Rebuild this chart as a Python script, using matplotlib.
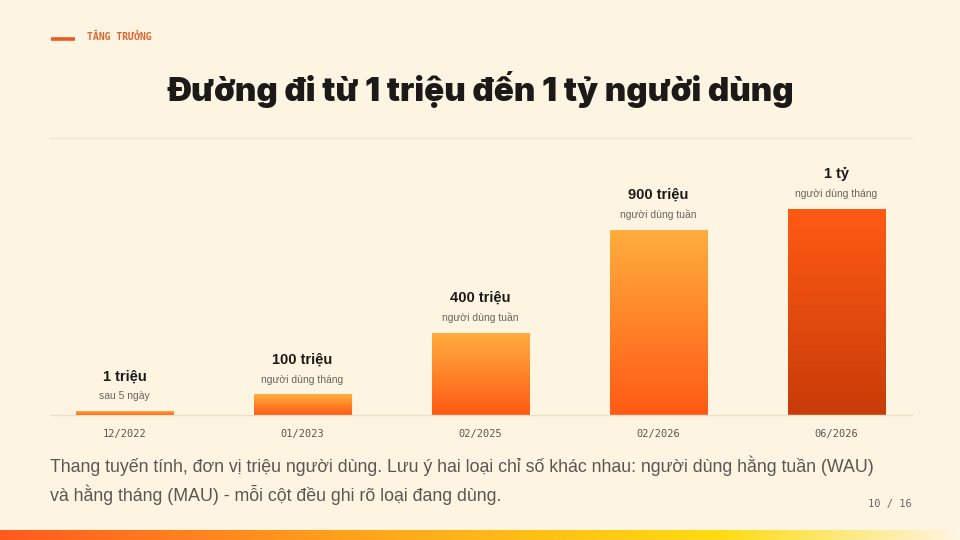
import numpy as np
import matplotlib
matplotlib.use('Agg')
import matplotlib.pyplot as plt
from matplotlib.colors import LinearSegmentedColormap

# data (million users)
periods = ['12/2022', '01/2023', '02/2025', '02/2026', '06/2026']
values = [1, 100, 400, 900, 1000]
value_labels = ['1 triệu', '100 triệu', '400 triệu', '900 triệu', '1 tỷ']
sub_labels = ['sau 5 ngày', 'người dùng tháng', 'người dùng tuần', 'người dùng tuần', 'người dùng tháng']
title = 'Đường đi từ 1 triệu đến 1 tỷ người dùng'
kicker = 'TĂNG TRƯỞNG'
caption = ('Thang tuyến tính, đơn vị triệu người dùng. Lưu ý hai loại chỉ số khác nhau: người dùng hằng tuần (WAU)\n'
           'và hằng tháng (MAU) - mỗi cột đều ghi rõ loại đang dùng.')
page = '10 / 16'

bg = '#fdf5e2'
W, H = 960, 540
mono = ['DejaVu Sans Mono', 'Liberation Mono']

fig = plt.figure(figsize=(9.6, 5.4), dpi=100, facecolor=bg)

# background / decoration layer in pixel coords
deco = fig.add_axes([0, 0, 1, 1])
deco.set_xlim(0, W)
deco.set_ylim(H, 0)
deco.axis('off')
deco.set_facecolor(bg)

deco.plot([51, 75], [39, 39], color='#ea5b22', lw=2.6, solid_capstyle='butt')
deco.text(87, 37, kicker, fontsize=7, fontweight='bold', family=mono,
          color='#e0642e', va='center', ha='left')
deco.text(481, 89, title, fontsize=23.9, fontweight='black', family=['Inter', 'DejaVu Sans'],
          color='#1c1a18', va='center', ha='center')
deco.plot([50, 912], [138, 138], color='#efe6d2', lw=1)
deco.text(50, 480.5, caption, fontsize=12.75, family='Liberation Sans', color='#5a5652',
          va='center', ha='left', linespacing=1.5)
deco.text(912, 504, page, fontsize=7.5, family=mono, color='#6a6560',
          va='center', ha='right')

# bottom strip gradient
strip = LinearSegmentedColormap.from_list('strip', [(0, '#ff5a1e'), (0.35, '#ffa01e'),
                                                    (0.75, '#ffdc10'), (1.0, bg)])
grad = np.linspace(0, 1, 512).reshape(1, -1)
deco.imshow(grad, cmap=strip, extent=[0, W, 540, 530], aspect='auto', zorder=1)
deco.set_xlim(0, W)
deco.set_ylim(H, 0)

# chart axes
ax = fig.add_axes([51 / W, (540 - 415) / H, (912 - 51) / W, 275 / H])
ax.patch.set_alpha(0)
x = np.arange(len(values))
shown = [max(v, 18) for v in values]
bars = ax.bar(x, shown, width=0.545, color='none', edgecolor='none')

warm = LinearSegmentedColormap.from_list('warm', ['#ff5a14', '#ffae3e'])
deep = LinearSegmentedColormap.from_list('deep', ['#c83c08', '#ff5a14'])
vgrad = np.linspace(0, 1, 256).reshape(-1, 1)
for i, b in enumerate(bars):
    cm_ = deep if i == len(bars) - 1 else warm
    x0, w, h = b.get_x(), b.get_width(), b.get_height()
    im = ax.imshow(vgrad, cmap=cm_, origin='lower', aspect='auto',
                   extent=[x0, x0 + w, 0, h], zorder=2)
    im.set_clip_path(b)
    ax.text(x[i], h + 170, value_labels[i], ha='center', va='center', fontsize=10.5,
            fontweight='bold', family='Liberation Sans', color='#1c1a18')
    ax.text(x[i], h + 72, sub_labels[i], ha='center', va='center', fontsize=7.5,
            family='Liberation Sans', color='#6a6560')
ax.set_xlim(-0.413, 4.424)
ax.set_ylim(0, 1335)

for s in ['top', 'right', 'left']:
    ax.spines[s].set_visible(False)
ax.spines['bottom'].set_color('#ece0c6')
ax.spines['bottom'].set_linewidth(1)
ax.set_yticks([])
ax.set_xticks(x)
ax.set_xticklabels(periods, family=mono, fontsize=7.5, color='#5a5652')
ax.tick_params(axis='x', length=0, pad=10)

fig.savefig('out.png', dpi=100, facecolor=bg)
